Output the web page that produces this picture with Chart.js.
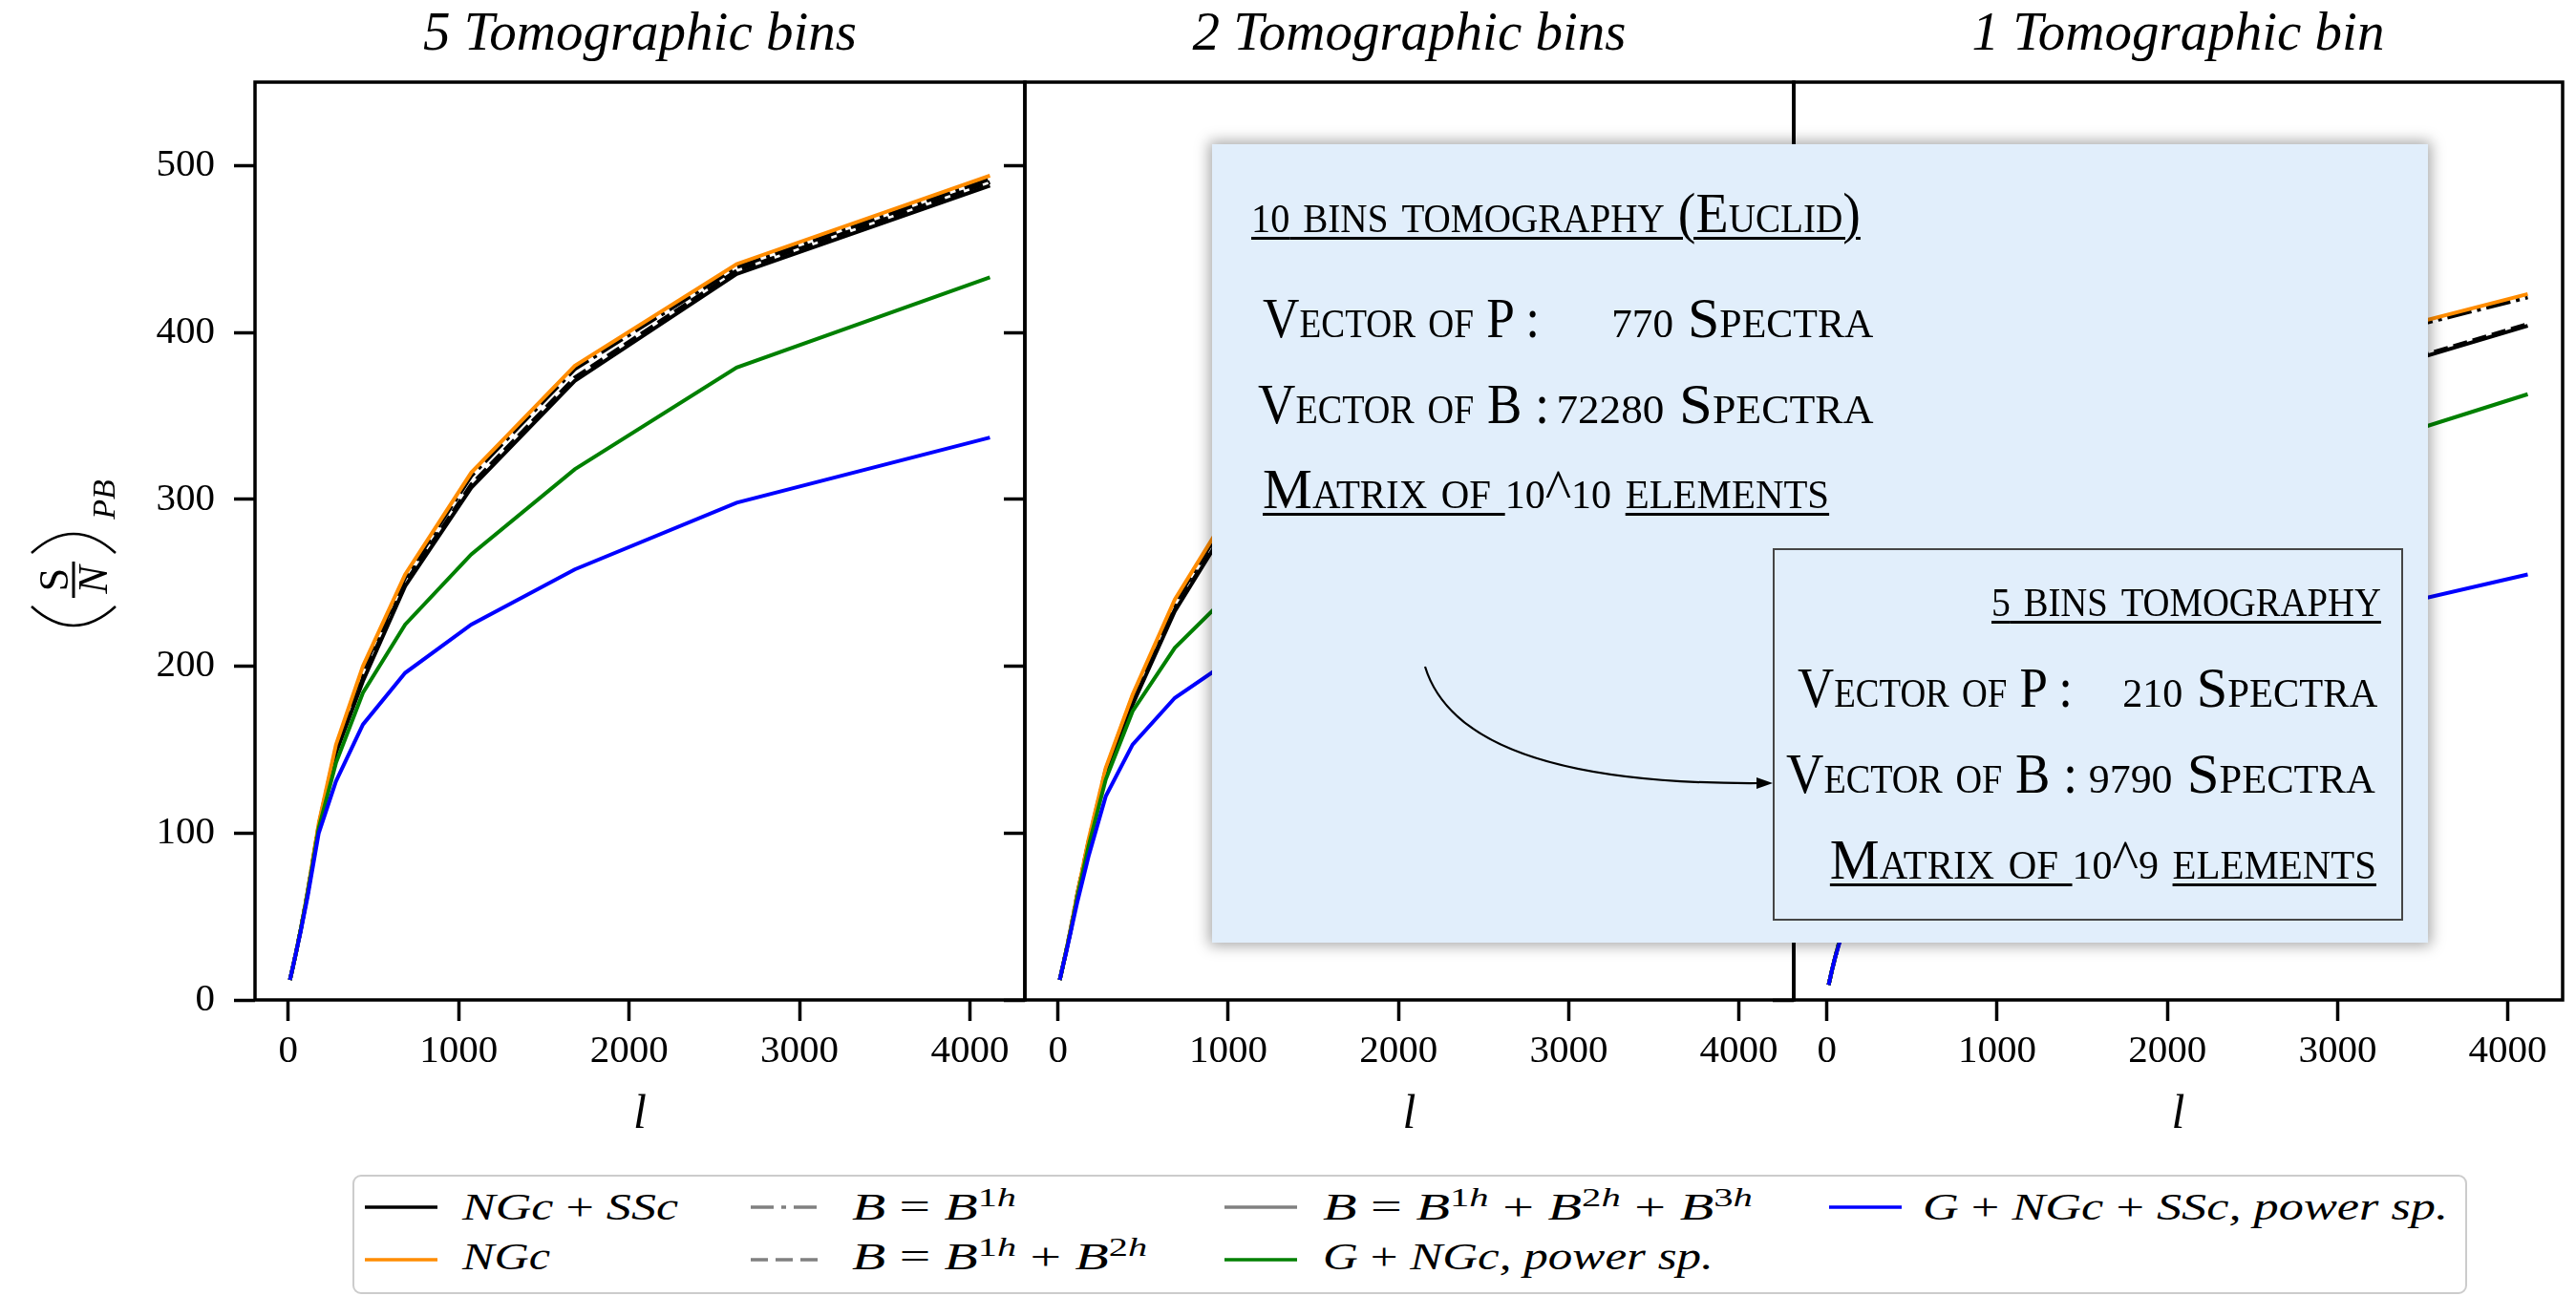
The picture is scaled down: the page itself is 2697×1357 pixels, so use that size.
<!DOCTYPE html>
<html>
<head>
<meta charset="utf-8">
<script src="https://cdn.jsdelivr.net/npm/chart.js@4.4.1/dist/chart.umd.min.js"></script>
<style>
body { margin:0; background:#fff; width:2697px; height:1357px; position:relative; overflow:hidden; }
canvas { position:absolute; top:0; }
#c1 { left:0; } #c2 { left:1043px; } #c3 { left:1848px; }
.legend { position:absolute; left:369px; top:1230px; width:2214px; height:125px; box-sizing:border-box;
  border:2px solid #cccccc; border-radius:9px; background:#fff; }
.lt { position:absolute; font-family:'Liberation Serif', serif; font-style:italic; font-size:39px; line-height:39px; white-space:pre; color:#000; }
.lt .sp { position:relative; top:-0.5em; font-size:0.7em; }
.lt .up { font-style:normal; }
.ls { position:absolute; }
#note { position:absolute; left:1269px; top:151px; width:1273px; height:836px; background:#e1eefb;
  box-shadow:0 0 14px 3px rgba(0,0,0,0.35); }
#inner { position:absolute; left:1856px; top:574px; width:660px; height:390px; box-sizing:border-box; border:2.5px solid #454545; }
.nt { position:absolute; font-family:'Liberation Serif', serif; font-variant:small-caps; font-size:60px; line-height:60px;
  white-space:pre; color:#000; }
.u { text-decoration:underline; text-decoration-thickness:3px; text-underline-offset:5px; }
.n { font-size:0.72em; }
#arrow { position:absolute; left:0; top:0; }
</style>
</head>
<body>
<canvas id="c1" width="1080" height="1220"></canvas>
<canvas id="c2" width="842" height="1220"></canvas>
<canvas id="c3" width="842" height="1220"></canvas>

<div class="legend"></div>
<svg class="ls" style="left:382px;top:1254px" width="78" height="20"><line x1="0" y1="10" x2="76" y2="10" stroke="#000" stroke-width="3.5"/></svg>
<svg class="ls" style="left:382px;top:1309px" width="78" height="20"><line x1="0" y1="10" x2="76" y2="10" stroke="#ff8c00" stroke-width="3.5"/></svg>
<svg class="ls" style="left:786px;top:1254px" width="78" height="20"><line x1="0" y1="10" x2="76" y2="10" stroke="#808080" stroke-width="3.5" stroke-dasharray="24 8 5 8"/></svg>
<svg class="ls" style="left:786px;top:1309px" width="78" height="20"><line x1="0" y1="10" x2="76" y2="10" stroke="#808080" stroke-width="3.5" stroke-dasharray="18 8"/></svg>
<svg class="ls" style="left:1282px;top:1254px" width="78" height="20"><line x1="0" y1="10" x2="76" y2="10" stroke="#808080" stroke-width="3.5"/></svg>
<svg class="ls" style="left:1282px;top:1309px" width="78" height="20"><line x1="0" y1="10" x2="76" y2="10" stroke="#008000" stroke-width="3.5"/></svg>
<svg class="ls" style="left:1915px;top:1254px" width="78" height="20"><line x1="0" y1="10" x2="76" y2="10" stroke="#0000ff" stroke-width="3.5"/></svg>

<div class="lt" style="left:484px;top:1244px" data-w="226">NGc <span class="up">+</span> SSc</div>
<div class="lt" style="left:484px;top:1296px" data-w="92">NGc</div>
<div class="lt" style="left:892px;top:1244px" data-w="172">B <span class="up">=</span> B<span class="sp"><span class="up">1</span>h</span></div>
<div class="lt" style="left:892px;top:1296px" data-w="309">B <span class="up">=</span> B<span class="sp"><span class="up">1</span>h</span> <span class="up">+</span> B<span class="sp"><span class="up">2</span>h</span></div>
<div class="lt" style="left:1385px;top:1244px" data-w="450">B <span class="up">=</span> B<span class="sp"><span class="up">1</span>h</span> <span class="up">+</span> B<span class="sp"><span class="up">2</span>h</span> <span class="up">+</span> B<span class="sp"><span class="up">3</span>h</span></div>
<div class="lt" style="left:1385px;top:1296px" data-w="409">G <span class="up">+</span> NGc, power sp.</div>
<div class="lt" style="left:2013px;top:1244px" data-w="550">G <span class="up">+</span> NGc <span class="up">+</span> SSc, power sp.</div>

<div id="note"></div>
<div id="inner"></div>
<div class="nt" style="left:1310px;top:193px" data-w="638"><span class="u"><span class="n">10</span> bins tomography (Euclid)</span></div>
<div class="nt" style="left:1322px;top:303px" data-w="290">Vector of P :</div>
<div class="nt" style="right:736px;top:303px" data-w="274" data-o="right"><span class="n">770</span> Spectra</div>
<div class="nt" style="left:1317px;top:393px" data-w="305">Vector of B :</div>
<div class="nt" style="right:736px;top:393px" data-w="332" data-o="right"><span class="n">72280</span> Spectra</div>
<div class="nt" style="left:1322px;top:482px" data-w="593"><span class="u">Matrix of </span><span class="n">10</span>^<span class="n">10</span> <span class="u">elements</span></div>
<div class="nt" style="right:204px;top:595px" data-w="408" data-o="right"><span class="u"><span class="n">5</span> bins tomography</span></div>
<div class="nt" style="left:1882px;top:690px" data-w="288">Vector of P :</div>
<div class="nt" style="right:208px;top:690px" data-w="267" data-o="right"><span class="n">210</span> Spectra</div>
<div class="nt" style="left:1870px;top:780px" data-w="305">Vector of B :</div>
<div class="nt" style="right:210px;top:780px" data-w="300" data-o="right"><span class="n">9790</span> Spectra</div>
<div class="nt" style="right:209px;top:870px" data-w="572" data-o="right"><span class="u">Matrix of </span><span class="n">10</span>^<span class="n">9</span> <span class="u">elements</span></div>

<svg id="arrow" width="2697" height="1357">
  <path d="M1492,698 Q1530,822 1842,820" fill="none" stroke="#000" stroke-width="2.2"/>
  <polygon points="1856,820 1839,814 1839,826" fill="#000"/>
</svg>

<script>
// multipole grid (shared by all panels)
const ell = [10, 19, 30, 47, 73, 114, 179, 280, 438, 686, 1074, 1681, 2631, 4117];
const xTicks = [0, 1000, 2000, 3000, 4000];
const yTicks = [0, 100, 200, 300, 400, 500];

// 5 tomographic bins
const ngcSsc5    = [12, 16, 21, 29, 42, 64, 104, 148, 191, 248, 307, 371, 435, 488];
const ngcSscB2_5 = [12, 16, 21, 29, 42, 64, 104, 149, 193, 250, 309, 373, 437, 490];
const ngcSscB1_5 = [12, 16, 21, 29, 42, 65, 105, 151, 198, 253, 314, 378, 439, 492];
const ngc5       = [12, 16, 21, 29, 42, 65, 106, 153, 200, 255, 316, 380, 441, 494];
const gNgc5      = [12, 16, 21, 29, 42, 64, 103, 142, 184, 225, 267, 318, 379, 433];
const gNgcSsc5   = [12, 16, 21, 29, 41, 62, 100, 131, 165, 196, 225, 258, 298, 337];

// 2 tomographic bins
const ngcSsc2    = [12, 16, 21, 29, 41, 63, 94, 135, 177, 233, 297, 350, 405, 455];
const ngcSscB2_2 = [12, 16, 21, 29, 41, 63, 94, 136, 178, 234, 298, 351, 407, 457];
const ngcSscB1_2 = [12, 16, 21, 29, 42, 64, 95, 138, 182, 238, 302, 358, 416, 468];
const ngc2       = [12, 16, 21, 29, 42, 64, 96, 139, 183, 240, 304, 360, 418, 470];
const gNgc2      = [12, 16, 21, 29, 41, 62, 92, 132, 173, 211, 250, 290, 335, 380];
const gNgcSsc2   = [12, 16, 21, 28, 40, 59, 86, 122, 153, 181, 208, 235, 265, 300];

// 1 tomographic bin
const ngcSsc1    = [9, 13, 18, 25, 35, 49, 68, 94, 128, 170, 220, 290, 359, 404];
const ngcSscB2_1 = [9, 13, 18, 25, 35, 49, 68, 94, 129, 171, 221, 291, 360, 405];
const ngcSscB1_1 = [9, 13, 18, 25, 35, 49, 69, 96, 131, 176, 231, 306, 383, 421];
const ngc1       = [9, 13, 18, 25, 35, 49, 69, 96, 132, 177, 232, 307, 384, 423];
const gNgc1      = [9, 13, 18, 25, 35, 48, 66, 90, 120, 155, 195, 250, 315, 363];
const gNgcSsc1   = [9, 13, 18, 25, 34, 46, 62, 82, 106, 132, 158, 188, 220, 255];

const serif = "'Liberation Serif', serif";
Chart.defaults.font.family = serif;
Chart.defaults.color = '#000';

function pts(vals) {
    return ell.map((l, i) => ({ x: l, y: vals[i] }));
}

// first in list is drawn on top
function makeDatasets(full, b2, b1, ngc, gNgc, gNgcSsc) {
    return [
        { label: 'G + NGc + SSc, power sp.', data: pts(gNgcSsc), borderColor: '#0000ff' },
        { label: 'G + NGc, power sp.', data: pts(gNgc), borderColor: '#008000' },
        { label: 'NGc', data: pts(ngc), borderColor: '#ff8c00' },
        { label: 'B = B1h', data: pts(b1), borderColor: '#000', borderDash: [26, 6, 4, 6] },
        { label: 'B = B1h + B2h', data: pts(b2), borderColor: '#000', borderDash: [15, 6] },
        { label: 'NGc + SSc', data: pts(full), borderColor: '#000' }
    ].map(d => Object.assign(d, { borderWidth: 4, pointRadius: 0, tension: 0, fill: false }));
}

const framePlugin = {
    id: 'frame',
    afterDatasetsDraw(chart) {
        const { ctx, chartArea: a } = chart;
        ctx.save();
        ctx.strokeStyle = '#000';
        ctx.lineWidth = 3.5;
        ctx.strokeRect(a.left, a.top, a.right - a.left, a.bottom - a.top);
        ctx.restore();
    }
};

// (S/N)_PB label, drawn rotated
const yTitlePlugin = {
    id: 'yTitle',
    afterDraw(chart) {
        const ctx = chart.ctx;
        ctx.save();
        ctx.translate(77, 607);
        ctx.rotate(-Math.PI / 2);
        ctx.fillStyle = '#000';
        ctx.strokeStyle = '#000';
        ctx.textAlign = 'center';
        ctx.textBaseline = 'alphabetic';
        ctx.font = "44px 'Liberation Serif'";
        ctx.fillText('S', 0, -6);
        ctx.font = "italic 44px 'Liberation Serif'";
        ctx.fillText('N', 0, 35);
        ctx.fillRect(-19, -1.5, 38, 3);
        ctx.lineWidth = 2.5;
        ctx.beginPath(); ctx.moveTo(-28, -44); ctx.quadraticCurveTo(-68, 0, -28, 44); ctx.stroke();
        ctx.beginPath(); ctx.moveTo(28, -44); ctx.quadraticCurveTo(68, 0, 28, 44); ctx.stroke();
        ctx.font = "italic 34px 'Liberation Serif'";
        ctx.textBaseline = 'middle';
        ctx.fillText('PB', 84, 34);
        ctx.restore();
    }
};

function makeChart(id, title, datasets, yWidth, showYLabels, extra) {
    return new Chart(document.getElementById(id), {
        type: 'line',
        data: { datasets: datasets },
        options: {
            responsive: false,
            animation: false,
            devicePixelRatio: 1,
            layout: { padding: { left: 0, right: 7, top: 0, bottom: 0 } },
            plugins: {
                legend: { display: false },
                tooltip: { enabled: false },
                title: {
                    display: true,
                    fullSize: false,
                    text: title,
                    color: '#000',
                    font: { family: serif, style: 'italic', size: 57, weight: 'normal', lineHeight: 1.1 },
                    padding: { top: 6, bottom: 17.3 }
                }
            },
            scales: {
                x: {
                    type: 'linear',
                    min: -195,
                    max: 4322,
                    afterFit: s => { s.height = 173; },
                    afterBuildTicks: s => { s.ticks = xTicks.map(v => ({ value: v })); },
                    ticks: {
                        font: { family: serif, size: 41 }, color: '#000', padding: 8, maxRotation: 0, autoSkip: false,
                        callback: v => String(v)
                    },
                    grid: { drawOnChartArea: false, tickLength: 22, tickWidth: 3.5, tickColor: '#000' },
                    border: { display: false },
                    title: {
                        display: true, text: 'l', color: '#000',
                        font: { family: serif, style: 'italic', size: 50 },
                        padding: { top: 0, bottom: 22 }
                    }
                },
                y: {
                    min: 0,
                    max: 550,
                    afterFit: s => { s.width = yWidth; },
                    afterBuildTicks: s => { s.ticks = yTicks.map(v => ({ value: v })); },
                    ticks: {
                        display: showYLabels, font: { family: serif, size: 41 }, color: '#000', padding: 20,
                        callback: v => String(v)
                    },
                    grid: { drawOnChartArea: false, tickLength: 22, tickWidth: 3.5, tickColor: '#000' },
                    border: { display: false }
                }
            }
        },
        plugins: [framePlugin].concat(extra)
    });
}

makeChart('c1', '5 Tomographic bins',
    makeDatasets(ngcSsc5, ngcSscB2_5, ngcSscB1_5, ngc5, gNgc5, gNgcSsc5), 267, true, [yTitlePlugin]);
makeChart('c2', '2 Tomographic bins',
    makeDatasets(ngcSsc2, ngcSscB2_2, ngcSscB1_2, ngc2, gNgc2, gNgcSsc2), 30, false, []);
makeChart('c3', '1 Tomographic bin',
    makeDatasets(ngcSsc1, ngcSscB2_1, ngcSscB1_1, ngc1, gNgc1, gNgcSsc1), 30, false, []);

// squeeze text runs to the widths seen in the picture
document.querySelectorAll('[data-w]').forEach(el => {
    const w = el.getBoundingClientRect().width;
    el.style.transformOrigin = el.dataset.o || 'left';
    el.style.transform = 'scaleX(' + (parseFloat(el.dataset.w) / w).toFixed(3) + ')';
});
</script>
</body>
</html>
